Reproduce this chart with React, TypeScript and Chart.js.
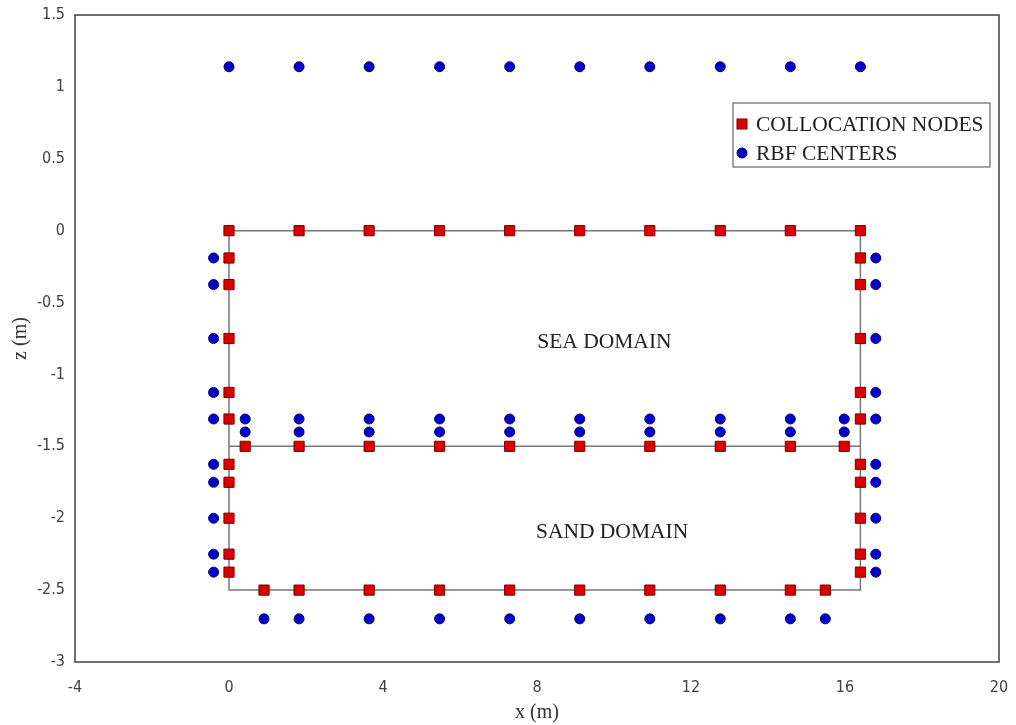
import React, { useEffect, useRef } from "react";
import { Chart, registerables } from "chart.js";

Chart.register(...registerables);

// ---- data (metres) ----
const topRowX = [0, 1.82, 3.64, 5.47, 7.29, 9.11, 10.93, 12.76, 14.58, 16.4];
const rbfTopZ = 1.14;
const sideZ = [-0.19, -0.375, -0.75, -1.125, -1.31, -1.625, -1.75, -2, -2.25, -2.375];
const leftNodeX = 0;
const rightNodeX = 16.4;
const leftRbfX = -0.4;
const rightRbfX = 16.8;
const interfaceX = [0.42, 1.82, 3.64, 5.47, 7.29, 9.11, 10.93, 12.76, 14.58, 15.98];
const interfaceZ = -1.5;
const interfaceRbfZ = [-1.31, -1.4];
const bottomX = [0.91, 1.82, 3.64, 5.47, 7.29, 9.11, 10.93, 12.76, 14.58, 15.49];
const bottomZ = -2.5;
const bottomRbfZ = -2.7;

const boundaryX = [0, 16.4, 16.4, 0, 0];
const boundaryZ = [0, 0, -2.5, -2.5, 0];
const interfaceLineX = [0, 16.4];
const interfaceLineZ = [-1.5, -1.5];

const domainLabels = ["SEA DOMAIN", "SAND DOMAIN"];
const domainLabelX = [9.75, 9.95];
const domainLabelZ = [-0.78, -2.1];

const xTicks = [-4, 0, 4, 8, 12, 16, 20];
const zTicks = [1.5, 1, 0.5, 0, -0.5, -1, -1.5, -2, -2.5, -3];

const seriesNames = ["COLLOCATION NODES", "RBF CENTERS"];

const collocation = [
  ...topRowX.map((x) => ({ x, y: 0 })),
  ...sideZ.map((z) => ({ x: leftNodeX, y: z })),
  ...sideZ.map((z) => ({ x: rightNodeX, y: z })),
  ...interfaceX.map((x) => ({ x, y: interfaceZ })),
  ...bottomX.map((x) => ({ x, y: bottomZ })),
];

const rbf = [
  ...topRowX.map((x) => ({ x, y: rbfTopZ })),
  ...sideZ.map((z) => ({ x: leftRbfX, y: z })),
  ...sideZ.map((z) => ({ x: rightRbfX, y: z })),
  ...interfaceRbfZ.flatMap((z) => interfaceX.map((x) => ({ x, y: z }))),
  ...bottomX.map((x) => ({ x, y: bottomRbfZ })),
];

const boundary = boundaryX.map((x, i) => ({ x, y: boundaryZ[i] }));
const interfaceLine = interfaceLineX.map((x, i) => ({ x, y: interfaceLineZ[i] }));

const SERIF = "'Liberation Serif', 'Times New Roman', serif";
const TICKFONT = "'Liberation Sans Narrow', 'DejaVu Sans Condensed', 'Open Sans', sans-serif";

const RED = "#dd0000";
const RED_BORDER = "#7a0000";
const BLUE = "#0000cc";
const BLUE_BORDER = "#000066";

const framePlugin = {
  id: "frame",
  beforeDatasetsDraw(chart: any) {
    const { ctx, chartArea } = chart;
    ctx.save();
    ctx.strokeStyle = "#404040";
    ctx.lineWidth = 1.5;
    ctx.strokeRect(chartArea.left, chartArea.top, chartArea.right - chartArea.left, chartArea.bottom - chartArea.top);
    ctx.restore();
  },
  afterDatasetsDraw(chart: any) {
    const { ctx, scales } = chart;
    ctx.save();
    ctx.fillStyle = "#222";
    ctx.font = `21.5px ${SERIF}`;
    ctx.textAlign = "center";
    ctx.textBaseline = "middle";
    domainLabels.forEach((t, i) => {
      ctx.fillText(t, scales.x.getPixelForValue(domainLabelX[i]), scales.y.getPixelForValue(domainLabelZ[i]));
    });

    // legend
    const bx = 733, by = 103, bw = 257, bh = 64;
    ctx.fillStyle = "#fff";
    ctx.fillRect(bx, by, bw, bh);
    ctx.strokeStyle = "#666";
    ctx.lineWidth = 1.2;
    ctx.strokeRect(bx, by, bw, bh);
    ctx.textAlign = "left";
    ctx.fillStyle = RED;
    ctx.fillRect(737, 119, 10, 10);
    ctx.strokeStyle = RED_BORDER;
    ctx.lineWidth = 1;
    ctx.strokeRect(737, 119, 10, 10);
    ctx.beginPath();
    ctx.arc(742, 153, 5, 0, Math.PI * 2);
    ctx.fillStyle = BLUE;
    ctx.fill();
    ctx.strokeStyle = BLUE_BORDER;
    ctx.stroke();
    ctx.fillStyle = "#222";
    ctx.font = `21.5px ${SERIF}`;
    ctx.fillText(seriesNames[0], 756, 125);
    ctx.fillText(seriesNames[1], 756, 154);
    ctx.restore();
  },
};

export default function App() {
  const ref = useRef<HTMLCanvasElement>(null);
  useEffect(() => {
    document.body.style.margin = "0";
    const canvas = ref.current!;
    const chart = new Chart(canvas, {
      type: "scatter",
      data: {
        datasets: [
          {
            label: "boundary",
            data: boundary,
            showLine: true,
            borderColor: "#777",
            borderWidth: 1.5,
            pointRadius: 0,
            order: 5,
          },
          {
            label: "interface",
            data: interfaceLine,
            showLine: true,
            borderColor: "#777",
            borderWidth: 1.5,
            pointRadius: 0,
            order: 5,
          },
          {
            label: seriesNames[0],
            data: collocation,
            pointStyle: "rect",
            pointRadius: 7.2,
            backgroundColor: RED,
            borderColor: RED_BORDER,
            borderWidth: 1,
            order: 2,
          },
          {
            label: seriesNames[1],
            data: rbf,
            pointStyle: "circle",
            pointRadius: 5,
            backgroundColor: BLUE,
            borderColor: BLUE_BORDER,
            borderWidth: 1,
            order: 1,
          },
        ],
      },
      options: {
        responsive: false,
        animation: false,
        devicePixelRatio: 1,
        layout: { padding: { top: 15, right: 17, left: 0, bottom: 0 } },
        plugins: {
          legend: { display: false },
          tooltip: { enabled: false },
        },
        scales: {
          x: {
            type: "linear",
            min: -4,
            max: 20,
            afterBuildTicks: (s: any) => {
              s.ticks = xTicks.map((v) => ({ value: v }));
            },
            afterFit: (s: any) => {
              s.height = 63;
              s.paddingLeft = 0;
              s.paddingRight = 0;
            },
            grid: { display: false, drawTicks: false },
            border: { display: false },
            ticks: {
              padding: 16,
              color: "#404040",
              font: { family: TICKFONT, size: 16 },
              maxRotation: 0,
              callback: (v: any) => String(v),
            },
            title: {
              display: true,
              text: "x (m)",
              color: "#333",
              font: { family: SERIF, size: 20 },
              padding: 0,
            },
          },
          y: {
            type: "linear",
            min: -3,
            max: 1.5,
            afterBuildTicks: (s: any) => {
              s.ticks = zTicks.map((v) => ({ value: v }));
            },
            afterFit: (s: any) => {
              s.width = 75;
              s.paddingTop = 0;
              s.paddingBottom = 0;
            },
            grid: { display: false, drawTicks: false },
            border: { display: false },
            ticks: {
              padding: 10,
              color: "#404040",
              font: { family: TICKFONT, size: 16 },
              callback: (v: any) => String(v),
            },
            title: {
              display: true,
              text: "z (m)",
              color: "#333",
              font: { family: SERIF, size: 20 },
              padding: { top: 9, bottom: 0 },
            },
          },
        },
      },
      plugins: [framePlugin],
    } as any);
    return () => chart.destroy();
  }, []);
  return (
    <div style={{ width: 1016, height: 725, background: "#fff" }}>
      <canvas ref={ref} width={1016} height={725} />
    </div>
  );
}
